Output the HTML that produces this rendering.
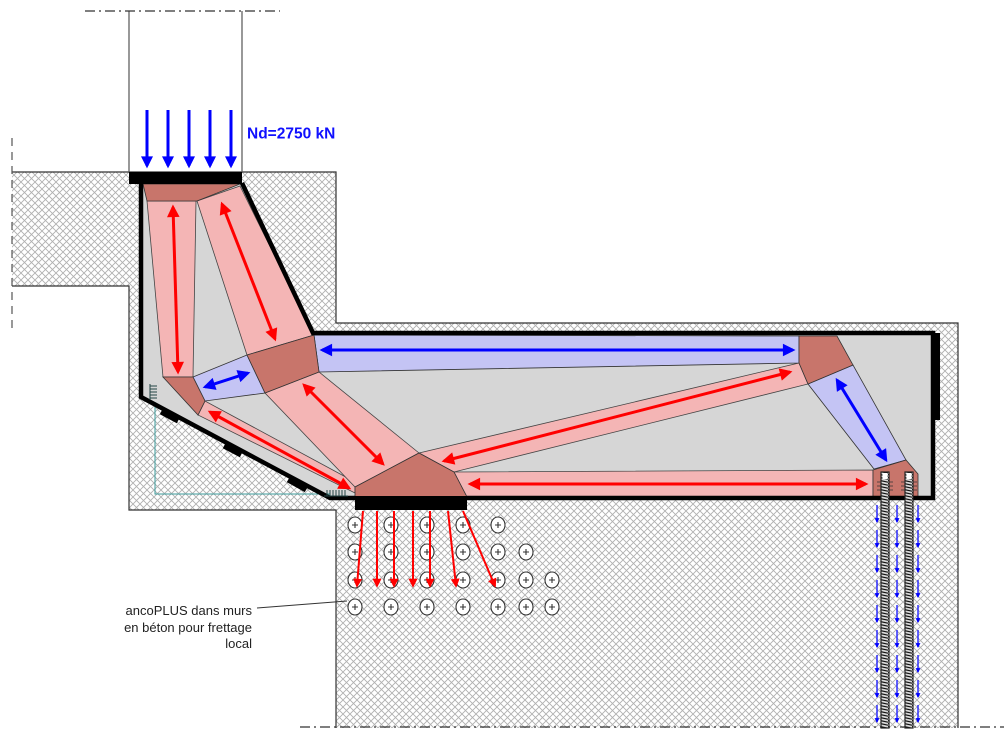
<!DOCTYPE html>
<html><head><meta charset="utf-8"><style>
html,body{margin:0;padding:0;background:#fff;}
svg{display:block;}
</style></head><body>
<svg width="1004" height="741" viewBox="0 0 1004 741" xmlns="http://www.w3.org/2000/svg">
<defs>
<pattern id="hatch" patternUnits="userSpaceOnUse" width="7" height="7">
<rect width="7" height="7" fill="#fff"/>
<path d="M0,0 L7,7 M7,0 L0,7" stroke="#b0b0b0" stroke-width="0.9"/>
</pattern>
<pattern id="coil" patternUnits="userSpaceOnUse" width="8" height="3">
<rect width="8" height="3" fill="#d8d8d8"/>
<path d="M0,0.5 L8,2.2" stroke="#111" stroke-width="1.2"/>
</pattern>
<marker id="rh" viewBox="0 0 10 10" refX="8" refY="5" markerWidth="5.4" markerHeight="4.2" orient="auto-start-reverse">
<path d="M0,0 L10,5 L0,10 z" fill="#ff0000"/>
</marker>
<marker id="bh" viewBox="0 0 10 10" refX="8" refY="5" markerWidth="5.4" markerHeight="4.2" orient="auto-start-reverse">
<path d="M0,0 L10,5 L0,10 z" fill="#0000ff"/>
</marker>
<marker id="bh2" viewBox="0 0 10 10" refX="8" refY="5" markerWidth="6" markerHeight="4" orient="auto">
<path d="M0,0 L10,5 L0,10 z" fill="#0000ff"/>
</marker>
<marker id="rh2" viewBox="0 0 10 10" refX="8" refY="5" markerWidth="6" markerHeight="4.5" orient="auto">
<path d="M0,0 L10,5 L0,10 z" fill="#ff0000"/>
</marker>
<marker id="bs" viewBox="0 0 10 10" refX="8" refY="5" markerWidth="4" markerHeight="3.5" orient="auto">
<path d="M0,0 L10,5 L0,10 z" fill="#0000ff"/>
</marker>
</defs>

<!-- hatched concrete -->
<path d="M12,172 H336 V323 H958 V728 H336 V510 H129 V286 H12 Z" fill="url(#hatch)"/>
<g stroke="#333" stroke-width="1.2" fill="none">
<path d="M12,172 H336 V323 H958 V728"/>
<path d="M336,728 V510 H129 V286 H12"/>
<path d="M129,11 V172 M242,11 V172" stroke="#555"/>
</g>
<!-- dash lines -->
<path d="M85,11 H280" stroke="#333" stroke-width="1.2" stroke-dasharray="10,4,2,4"/>
<path d="M300,727 H1004" stroke="#333" stroke-width="1.2" stroke-dasharray="10,4,2,4"/>
<path d="M12,138 V332" stroke="#555" stroke-width="1.2" stroke-dasharray="8,6"/>

<!-- grey corbel -->
<path d="M141,183 L242,183 L313,333 L933,333 L933,498 L330,498 L141,397 Z" fill="#d6d6d6"/>

<!-- teal line -->
<polyline points="155,402 155,494 330,494" fill="none" stroke="#3a9a9a" stroke-width="1"/>

<!-- struts -->
<g fill="#f4b5b5" stroke="#444" stroke-width="0.8">
<polygon points="147,201 196,201 193,377 163,377"/>
<polygon points="197,201 240,186 314,335 247,355"/>
<polygon points="205,401 198,415 355,493 355,482"/>
<polygon points="265,393 319,372 419,453 355,487"/>
<polygon points="419,453 799,363 808,384 454,472"/>
<polygon points="454,472 873,470 873,497 467,497"/>
</g>
<!-- ties -->
<g fill="#c4c4f4" stroke="#333" stroke-width="0.8">
<polygon points="314,335 799,336 799,363 319,372"/>
<polygon points="193,377 247,355 265,393 205,401"/>
<polygon points="808,384 853,365 906,460 874,469"/>
</g>
<!-- nodes -->
<g fill="#c8756b" stroke="#333" stroke-width="0.8">
<polygon points="143,184 240,184 197,201 147,201"/>
<polygon points="163,377 193,377 205,401 198,415"/>
<polygon points="247,355 314,335 319,372 265,393"/>
<polygon points="799,336 837,336 853,365 808,384 799,363"/>
<polygon points="355,487 419,453 454,472 467,497 355,497"/>
<polygon points="873,470 906,460 918,474 918,497 873,497"/>
</g>

<!-- red double arrows -->
<g stroke="#ff0000" stroke-width="3" fill="none" marker-start="url(#rh)" marker-end="url(#rh)">
<line x1="173" y1="207" x2="178" y2="372"/>
<line x1="222" y1="204" x2="275" y2="339"/>
<line x1="210" y1="412" x2="349" y2="488"/>
<line x1="304" y1="385" x2="383" y2="464"/>
<line x1="444" y1="461" x2="790" y2="372"/>
<line x1="470" y1="484" x2="866" y2="484"/>
</g>
<!-- blue double arrows -->
<g stroke="#0000ff" stroke-width="3" fill="none" marker-start="url(#bh)" marker-end="url(#bh)">
<line x1="322" y1="350" x2="793" y2="350"/>
<line x1="205" y1="387" x2="248" y2="373"/>
<line x1="837" y1="380" x2="886" y2="460"/>
</g>

<!-- corbel outline -->
<path d="M141,183 L141,397 L330,498 L355,498 M467,498 L933,498 L933,333 L313,333 L242,183" fill="none" stroke="#000" stroke-width="4.5" stroke-linejoin="miter"/>
<rect x="933" y="333" width="7" height="87" fill="#000"/>
<!-- plates -->
<rect x="129" y="172" width="113" height="12" fill="#000"/>
<rect x="355" y="496" width="112" height="14" fill="#000"/>

<!-- pads along diagonal -->
<g stroke="#000" stroke-width="5">
<line x1="161" y1="412" x2="178" y2="421"/>
<line x1="224" y1="446" x2="241" y2="455"/>
<line x1="288" y1="480" x2="306" y2="490"/>
</g>
<!-- comb marks -->
<g stroke="#244" stroke-width="1">
<line x1="150" y1="384" x2="150" y2="400"/>
<line x1="150" y1="386" x2="157" y2="386"/>
<line x1="150" y1="389" x2="157" y2="389"/>
<line x1="150" y1="392" x2="157" y2="392"/>
<line x1="150" y1="395" x2="157" y2="395"/>
<line x1="150" y1="398" x2="157" y2="398"/>
<line x1="324" y1="496" x2="348" y2="496"/>
<line x1="327" y1="490" x2="327" y2="496"/>
<line x1="330" y1="490" x2="330" y2="496"/>
<line x1="333" y1="490" x2="333" y2="496"/>
<line x1="336" y1="490" x2="336" y2="496"/>
<line x1="339" y1="490" x2="339" y2="496"/>
<line x1="342" y1="490" x2="342" y2="496"/>
<line x1="345" y1="490" x2="345" y2="496"/>
</g>

<!-- top load arrows -->
<g stroke="#0000ff" stroke-width="3" marker-end="url(#bh2)">
<line x1="147" y1="110" x2="147" y2="166"/>
<line x1="168" y1="110" x2="168" y2="166"/>
<line x1="189" y1="110" x2="189" y2="166"/>
<line x1="210" y1="110" x2="210" y2="166"/>
<line x1="231" y1="110" x2="231" y2="166"/>
</g>
<text x="247" y="138.5" font-family="Liberation Sans, Arial, sans-serif" font-weight="bold" font-size="15.5" fill="#1010ff">Nd=2750 kN</text>

<!-- anchors circles -->
<g stroke="#333" stroke-width="1.1">
<g fill="#fff">
<ellipse cx="355" cy="525" rx="7" ry="8"/><ellipse cx="391" cy="525" rx="7" ry="8"/><ellipse cx="427" cy="525" rx="7" ry="8"/><ellipse cx="463" cy="525" rx="7" ry="8"/><ellipse cx="498" cy="525" rx="7" ry="8"/>
<ellipse cx="355" cy="552" rx="7" ry="8"/><ellipse cx="391" cy="552" rx="7" ry="8"/><ellipse cx="427" cy="552" rx="7" ry="8"/><ellipse cx="463" cy="552" rx="7" ry="8"/><ellipse cx="498" cy="552" rx="7" ry="8"/><ellipse cx="526" cy="552" rx="7" ry="8"/>
<ellipse cx="355" cy="580" rx="7" ry="8"/><ellipse cx="391" cy="580" rx="7" ry="8"/><ellipse cx="427" cy="580" rx="7" ry="8"/><ellipse cx="463" cy="580" rx="7" ry="8"/><ellipse cx="498" cy="580" rx="7" ry="8"/><ellipse cx="526" cy="580" rx="7" ry="8"/><ellipse cx="552" cy="580" rx="7" ry="8"/>
<ellipse cx="355" cy="607" rx="7" ry="8"/><ellipse cx="391" cy="607" rx="7" ry="8"/><ellipse cx="427" cy="607" rx="7" ry="8"/><ellipse cx="463" cy="607" rx="7" ry="8"/><ellipse cx="498" cy="607" rx="7" ry="8"/><ellipse cx="526" cy="607" rx="7" ry="8"/><ellipse cx="552" cy="607" rx="7" ry="8"/>
</g>
<path fill="none" d="
M352,525h6M355,522v6 M388,525h6M391,522v6 M424,525h6M427,522v6 M460,525h6M463,522v6 M495,525h6M498,522v6
M352,552h6M355,549v6 M388,552h6M391,549v6 M424,552h6M427,549v6 M460,552h6M463,549v6 M495,552h6M498,549v6 M523,552h6M526,549v6
M352,580h6M355,577v6 M388,580h6M391,577v6 M424,580h6M427,577v6 M460,580h6M463,577v6 M495,580h6M498,577v6 M523,580h6M526,577v6 M549,580h6M552,577v6
M352,607h6M355,604v6 M388,607h6M391,604v6 M424,607h6M427,604v6 M460,607h6M463,604v6 M495,607h6M498,604v6 M523,607h6M526,604v6 M549,607h6M552,604v6"/>
</g>

<!-- red down arrows -->
<g stroke="#ff0000" stroke-width="2" marker-end="url(#rh2)">
<line x1="363" y1="511" x2="357" y2="586"/>
<line x1="377" y1="511" x2="377" y2="586"/>
<line x1="394" y1="511" x2="394" y2="586"/>
<line x1="413" y1="511" x2="413" y2="586"/>
<line x1="430" y1="511" x2="430" y2="586"/>
<line x1="448" y1="511" x2="456" y2="586"/>
<line x1="463" y1="511" x2="495" y2="586"/>
</g>

<!-- label -->
<line x1="257" y1="608" x2="347" y2="601" stroke="#333" stroke-width="1"/>
<g font-family="Liberation Sans, Arial, sans-serif" font-size="13" fill="#222" text-anchor="end">
<text x="252" y="615">ancoPLUS dans murs</text>
<text x="252" y="632">en béton pour frettage</text>
<text x="252" y="648">local</text>
</g>

<!-- rebars -->
<rect x="881" y="472" width="8" height="256" fill="url(#coil)" stroke="#222" stroke-width="1.2"/>
<rect x="905" y="472" width="8" height="256" fill="url(#coil)" stroke="#222" stroke-width="1.2"/>
<rect x="882.5" y="473" width="5" height="6" fill="#fff"/>
<rect x="906.5" y="473" width="5" height="6" fill="#fff"/>
<g stroke="#333" stroke-width="0.8">
<path d="M877,482h4M877,486h4M877,490h4M889,482h4M889,486h4M889,490h4M901,482h4M901,486h4M901,490h4M913,482h4M913,486h4M913,490h4"/>
</g>

<!-- small blue arrows -->
<g stroke="#2020ff" stroke-width="1.4" marker-end="url(#bs)">
<line x1="877" y1="505" x2="877" y2="522"/><line x1="877" y1="530" x2="877" y2="547"/><line x1="877" y1="555" x2="877" y2="572"/><line x1="877" y1="580" x2="877" y2="597"/><line x1="877" y1="605" x2="877" y2="622"/><line x1="877" y1="630" x2="877" y2="647"/><line x1="877" y1="655" x2="877" y2="672"/><line x1="877" y1="680" x2="877" y2="697"/><line x1="877" y1="705" x2="877" y2="722"/>
<line x1="897" y1="505" x2="897" y2="522"/><line x1="897" y1="530" x2="897" y2="547"/><line x1="897" y1="555" x2="897" y2="572"/><line x1="897" y1="580" x2="897" y2="597"/><line x1="897" y1="605" x2="897" y2="622"/><line x1="897" y1="630" x2="897" y2="647"/><line x1="897" y1="655" x2="897" y2="672"/><line x1="897" y1="680" x2="897" y2="697"/><line x1="897" y1="705" x2="897" y2="722"/>
<line x1="918" y1="505" x2="918" y2="522"/><line x1="918" y1="530" x2="918" y2="547"/><line x1="918" y1="555" x2="918" y2="572"/><line x1="918" y1="580" x2="918" y2="597"/><line x1="918" y1="605" x2="918" y2="622"/><line x1="918" y1="630" x2="918" y2="647"/><line x1="918" y1="655" x2="918" y2="672"/><line x1="918" y1="680" x2="918" y2="697"/><line x1="918" y1="705" x2="918" y2="722"/>
</g>
</svg>
</body></html>
